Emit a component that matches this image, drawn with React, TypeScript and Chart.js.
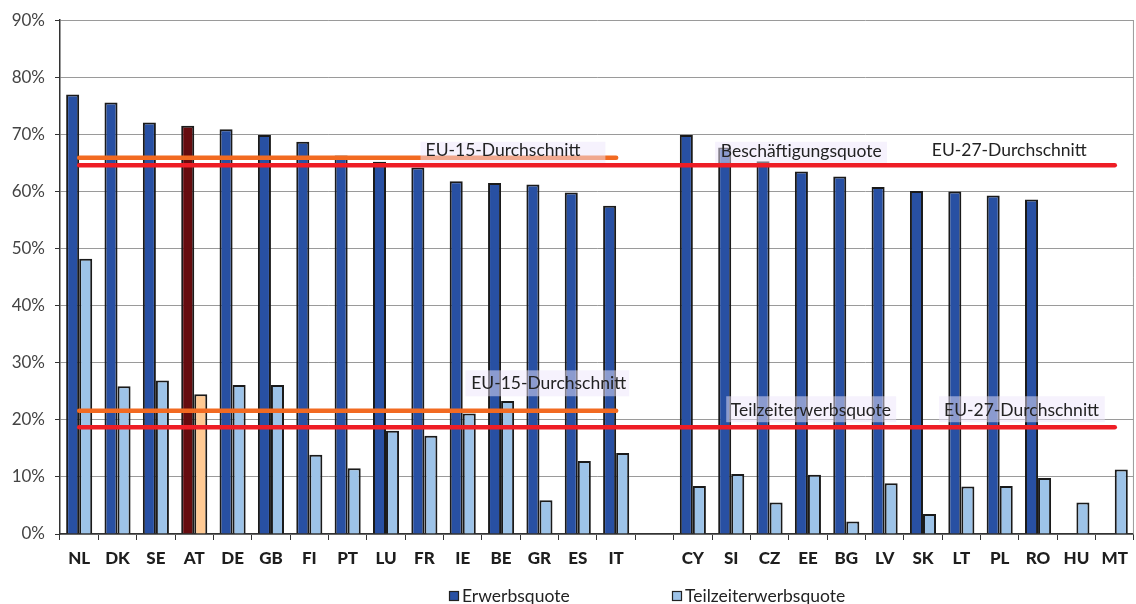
import React, { useEffect, useRef } from "react";
import { Chart, registerables } from "chart.js";

Chart.register(...registerables);

// ---- data ----
const categories = [
  "NL", "DK", "SE", "AT", "DE", "GB", "FI", "PT", "LU", "FR", "IE", "BE", "GR", "ES", "IT",
  "",
  "CY", "SI", "CZ", "EE", "BG", "LV", "SK", "LT", "PL", "RO", "HU", "MT",
];
const erwerbsquote: (number | null)[] = [
  77.0, 75.6, 72.1, 71.5, 70.9, 69.9, 68.7, 66.3, 65.2, 64.2, 61.8, 61.5, 61.2, 59.8, 57.5,
  null,
  69.9, 67.7, 65.3, 63.5, 62.6, 60.8, 60.1, 60.0, 59.3, 58.6, null, null,
];
const teilzeitquote: (number | null)[] = [
  48.2, 25.9, 26.9, 24.5, 26.1, 26.1, 13.9, 11.5, 18.1, 17.2, 21.1, 23.3, 5.9, 12.8, 14.2,
  null,
  8.4, 10.5, 5.5, 10.4, 2.2, 8.9, 3.5, 8.3, 8.4, 9.8, 5.5, 11.3,
];
const eu15Erwerbsquote = 65.9;
const eu27Erwerbsquote = 64.6;
const eu15Teilzeitquote = 21.6;
const eu27Teilzeitquote = 18.7;
const eu15Members = 15; // first 15 categories
const highlighted = "AT";
const yTickValues = [0, 10, 20, 30, 40, 50, 60, 70, 80, 90];

// ---- styles ----
const FONT = "Lato, 'Noto Sans', sans-serif";
const DARK_BLUE = "#2850A3";
const LIGHT_BLUE = "#9DC3E8";
const AT_DARK = "#660C0F";
const AT_LIGHT = "#FFCA94";
const ORANGE = "#F26A21";
const RED = "#EE1D25";

// annotation labels: x in category units from the left edge, y in value units
const notes = [
  { text: "EU-15-Durchschnitt", x: 9.53, y: 67.13, box: [9.4, 14.22, 68.7, 65.0] },
  { text: "Beschäftigungsquote", x: 17.23, y: 67.0, box: [17.08, 21.56, 68.7, 65.0] },
  { text: "EU-27-Durchschnitt", x: 22.73, y: 67.13, box: null },
  { text: "EU-15-Durchschnitt", x: 10.72, y: 26.4, box: [10.57, 14.84, 28.67, 24.13] },
  { text: "Teilzeiterwerbsquote", x: 17.49, y: 21.68, box: [17.37, 21.8, 24.13, 19.58] },
  { text: "EU-27-Durchschnitt", x: 23.05, y: 21.68, box: [22.92, 27.24, 24.13, 19.58] },
];

const notesPlugin = {
  id: "notes",
  afterDatasetsDraw(chart: any) {
    const { ctx, chartArea, scales } = chart;
    const y = scales.y;
    const cw = (chartArea.right - chartArea.left) / categories.length;
    const px = (c: number) => chartArea.left + c * cw;
    ctx.save();
    // right frame line
    ctx.strokeStyle = "#9a9a9a";
    ctx.lineWidth = 1;
    ctx.beginPath();
    ctx.moveTo(chartArea.right - 0.5, chartArea.top);
    ctx.lineTo(chartArea.right - 0.5, chartArea.bottom);
    ctx.stroke();
    for (const n of notes) {
      if (n.box) {
        const [x0, x1, v0, v1] = n.box;
        ctx.fillStyle = "rgba(238,230,252,0.5)";
        const top = y.getPixelForValue(v0);
        const bot = y.getPixelForValue(v1);
        ctx.fillRect(px(x0), top, px(x1) - px(x0), bot - top);
      }
    }
    ctx.fillStyle = "#222";
    ctx.font = `17.5px ${FONT}`;
    ctx.textAlign = "left";
    ctx.textBaseline = "middle";
    for (const n of notes) {
      ctx.fillText(n.text, px(n.x), y.getPixelForValue(n.y));
    }
    ctx.restore();
  },
  afterDraw(chart: any) {
    const { ctx } = chart;
    const items = [
      { label: chart.data.datasets[0].label, color: DARK_BLUE, x: 449 },
      { label: chart.data.datasets[1].label, color: LIGHT_BLUE, x: 672 },
    ];
    ctx.save();
    ctx.font = `17.5px ${FONT}`;
    ctx.textBaseline = "middle";
    ctx.textAlign = "left";
    const cy = 596;
    for (const it of items) {
      ctx.fillStyle = it.color;
      ctx.fillRect(it.x, cy - 5, 10, 10);
      ctx.strokeStyle = "#222";
      ctx.lineWidth = 1.2;
      ctx.strokeRect(it.x + 0.5, cy - 4.5, 9, 9);
      ctx.fillStyle = "#222";
      ctx.fillText(it.label, it.x + 13, cy);
    }
    ctx.restore();
  },
};

export default function App() {
  const ref = useRef<HTMLCanvasElement | null>(null);
  useEffect(() => {
    if (!ref.current) return;
    const darkColors = categories.map((c) => (c === highlighted ? AT_DARK : DARK_BLUE));
    const lightColors = categories.map((c) => (c === highlighted ? AT_LIGHT : LIGHT_BLUE));
    const eu15 = (v: number) => categories.map((_, i) => (i < eu15Members ? v : null));
    const eu27 = (v: number) => categories.map(() => v);
    const lineDs = (label: string, data: (number | null)[], color: string) => ({
      type: "line" as const,
      label,
      data,
      borderColor: color,
      borderWidth: 4.5,
      borderCapStyle: "round" as const,
      pointRadius: 0,
      fill: false,
      spanGaps: false,
      order: 0,
    });
    const chart = new Chart(ref.current, {
      type: "bar",
      data: {
        labels: categories,
        datasets: [
          {
            label: "Erwerbsquote",
            data: erwerbsquote,
            backgroundColor: darkColors,
            borderColor: "#1a1a1a",
            borderWidth: 2,
            categoryPercentage: 0.68,
            barPercentage: 1.0,
            order: 1,
          } as any,
          {
            label: "Teilzeiterwerbsquote",
            data: teilzeitquote,
            backgroundColor: lightColors,
            borderColor: "#1a1a1a",
            borderWidth: 2,
            categoryPercentage: 0.68,
            barPercentage: 1.0,
            order: 1,
          } as any,
          lineDs("EU-15 Erwerbsquote", eu15(eu15Erwerbsquote), ORANGE),
          lineDs("EU-27 Erwerbsquote", eu27(eu27Erwerbsquote), RED),
          lineDs("EU-15 Teilzeiterwerbsquote", eu15(eu15Teilzeitquote), ORANGE),
          lineDs("EU-27 Teilzeiterwerbsquote", eu27(eu27Teilzeitquote), RED),
        ],
      },
      options: {
        responsive: false,
        animation: false,
        devicePixelRatio: 1,
        layout: { padding: { top: 19, right: 1, left: 0, bottom: 0 } },
        plugins: {
          legend: { display: false },
          tooltip: { enabled: false },
          title: { display: false },
        },
        scales: {
          x: {
            offset: true,
            grid: {
              offset: true,
              drawOnChartArea: false,
              drawTicks: true,
              tickLength: 6,
              tickColor: "#333",
              lineWidth: 1,
            },
            border: { display: true, color: "#333", width: 1.5 },
            ticks: {
              font: { family: FONT, size: 17, weight: "900" },
              color: "#1e1e1e",
              padding: 8,
              maxRotation: 0,
              autoSkip: false,
            },
            afterFit: (s: any) => {
              s.height = 70;
            },
          },
          y: {
            min: 0,
            max: 90,
            afterBuildTicks: (s: any) => {
              s.ticks = yTickValues.map((v) => ({ value: v }));
            },
            grid: {
              color: "#9a9a9a",
              lineWidth: 1,
              tickLength: 5,
              tickColor: "#333",
            },
            border: { display: true, color: "#333", width: 1.5 },
            ticks: {
              font: { family: FONT, size: 17 },
              color: "#444",
              padding: 10,
              callback: (v: any) => `${v}%`,
            },
            afterFit: (s: any) => {
              s.width = 60;
            },
          },
        },
      },
      plugins: [notesPlugin],
    });
    return () => chart.destroy();
  }, []);
  return (
    <div style={{ position: "absolute", left: 0, top: 0, width: 1136, height: 604, background: "#fff" }}>
      <canvas ref={ref} width={1136} height={604} style={{ display: "block" }} />
    </div>
  );
}
